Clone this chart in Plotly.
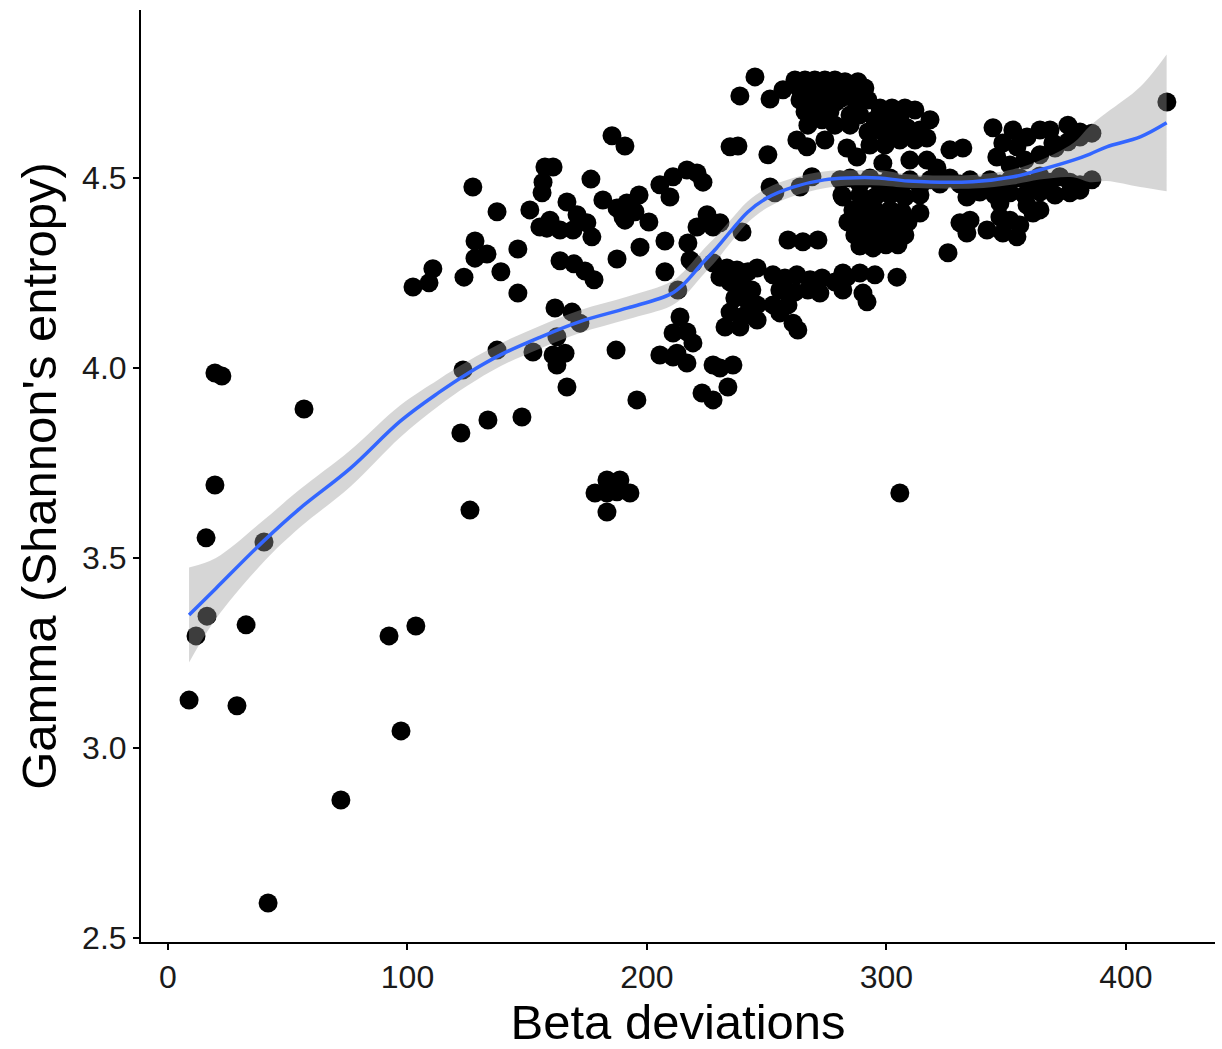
import plotly.graph_objects as go
import numpy as np

# ---- observed points: Beta deviations (x) vs Gamma Shannon entropy (y) ----
beta = [
    # sparse left part
    8.8, 11.7, 16.3, 15.9, 19.6, 19.6, 22.5, 28.8, 32.6, 40.1, 41.8, 56.8, 72.2, 92.3, 97.3, 103.5,
    # 100-155
    102.3, 109.0, 110.6, 123.2, 122.3, 126.1, 127.3, 123.6, 128.2, 128.2, 133.2, 137.4, 139.0, 137.4,
    133.6, 146.1, 146.1, 147.8, 152.4, 151.1, 155.3,
    # 155-200
    157.4, 160.8, 156.6, 156.2, 159.5, 158.2, 163.7, 169.1, 166.6, 170.8, 174.9, 177.0, 176.6, 181.6,
    187.5, 191.6, 196.7, 190.8, 195.0, 200.8, 185.4, 190.8, 190.0, 163.7, 169.5, 174.1, 177.9, 187.5,
    197.1, 161.6, 168.7, 172.0, 162.4, 160.8, 165.8, 162.4, 166.6, 187.1, 195.8,
    # 200-240
    205.4, 210.9, 216.7, 220.9, 223.4, 209.6, 207.5, 217.1, 220.9, 207.5, 219.2, 212.9, 213.8, 210.9,
    216.7, 205.4, 210.9, 216.7, 219.2, 212.5, 227.6, 230.5, 235.9, 233.8, 223.0, 227.6, 225.1, 227.6,
    230.5, 239.7, 227.6, 230.5, 218.0, 232.6,
    # upper cluster 235-290
    245.1, 238.8, 251.4, 256.8, 261.8, 266.0, 270.1, 274.3, 278.5, 282.7, 288.1, 263.9, 268.9, 273.9,
    278.9, 283.9, 263.9, 268.9, 273.9, 278.9, 266.0, 271.4, 276.4, 267.2, 273.1, 278.5, 284.8, 288.9,
    289.8, 234.7, 238.0, 250.5, 262.6, 266.8, 274.3, 283.5, 287.7, 251.4, 253.4, 263.9, 268.9, 281.4,
    258.9, 265.1, 271.4,
    # mid cluster 230-290
    233.4, 237.6, 242.2, 246.0, 234.7, 239.7, 243.8, 236.7, 241.8, 246.0, 234.7, 240.9, 246.0, 238.8,
    252.6, 257.6, 262.6, 268.1, 273.1, 278.5, 283.5, 255.5, 261.8, 267.2, 272.2, 255.5, 261.0, 263.0,
    252.6, 258.9, 290.2, 291.9,
    # upper 280-332
    280.6, 285.6, 291.0, 281.4, 286.8, 292.3, 297.3, 302.3, 307.7, 311.9, 284.8, 295.2, 300.6, 305.6,
    292.3, 297.3, 302.7, 308.6, 314.0, 318.2, 293.1, 299.4, 305.6, 311.9, 316.9, 298.5, 309.8, 316.9,
    321.1, 326.5, 331.9,
    # band near 4.49
    280.6, 284.8, 288.9, 293.1, 297.3, 301.5, 305.6, 309.8, 314.0, 318.2, 322.3, 326.5, 330.7, 334.9,
    339.0, 343.2, 347.4, 351.6, 355.7, 359.9, 364.1, 368.3, 372.4, 376.6, 380.8, 385.8,
    351.6, 357.8, 364.1, 370.4, 375.8, 380.8, 385.8,
    # upper right 344-381
    344.5, 352.8, 358.7, 364.1, 368.3, 375.8, 380.8, 348.6, 354.5, 369.5, 346.1,
    # below band
    281.8, 288.9, 295.2, 301.5, 307.7, 314.0, 333.6, 339.0, 345.3, 351.6, 357.8, 364.1, 370.4, 376.6,
    380.8, 286.0, 291.0, 296.0, 301.5, 306.5, 283.9, 288.9, 293.9, 299.0, 304.0, 309.0, 286.8, 291.9,
    297.3, 302.3, 307.7, 288.9, 294.4, 299.8, 304.8, 314.0, 330.7, 334.9, 333.6, 342.0, 347.4, 348.6,
    354.5, 351.6, 361.2, 364.1, 355.7, 347.4, 358.7, 325.7, 281.8, 288.9, 295.2, 304.4, 281.8,
    # isolated
    417.1, 183.3, 188.7, 178.3, 183.3, 187.5, 192.9, 183.3, 305.6,
]

gamma = [
    3.126, 3.295, 3.347, 3.553, 3.692, 3.987, 3.979, 3.111, 3.324, 3.542, 2.592, 3.892, 2.863, 3.295, 3.045, 3.321,
    4.213, 4.224, 4.261, 3.995, 3.829, 3.626, 4.476, 4.239, 4.334, 4.289, 4.300, 4.411, 4.253, 4.047,
    3.863, 4.197, 4.313, 3.871, 4.042, 4.416, 4.371,
    4.529, 4.529, 4.489, 4.461, 4.389, 4.368, 4.363, 4.363, 4.437, 4.403, 4.382, 4.345, 4.497, 4.442,
    4.421, 4.434, 4.455, 4.389, 4.411, 4.384, 4.611, 4.584, 4.397, 4.282, 4.274, 4.255, 4.232, 4.287,
    4.318, 4.158, 4.147, 4.118, 4.082, 4.034, 4.039, 4.008, 3.950, 4.047, 3.916,
    4.482, 4.503, 4.521, 4.513, 4.489, 4.450, 4.334, 4.329, 4.371, 4.253, 4.276, 4.205, 4.134, 4.092,
    4.095, 4.034, 4.029, 4.013, 4.066, 4.039, 4.008, 4.000, 4.008, 3.950, 3.934, 3.916, 4.403, 4.371,
    4.382, 4.358, 4.276, 4.239, 4.284, 4.108,
    4.766, 4.716, 4.708, 4.732, 4.758, 4.758, 4.758, 4.758, 4.758, 4.753, 4.753, 4.732, 4.732, 4.732,
    4.732, 4.726, 4.705, 4.705, 4.705, 4.700, 4.674, 4.674, 4.674, 4.639, 4.653, 4.639, 4.639, 4.666,
    4.705, 4.582, 4.584, 4.561, 4.600, 4.582, 4.600, 4.579, 4.555, 4.476, 4.461, 4.476, 4.503, 4.455,
    4.337, 4.332, 4.337,
    4.263, 4.258, 4.253, 4.263, 4.226, 4.218, 4.205, 4.184, 4.179, 4.166, 4.147, 4.139, 4.126, 4.108,
    4.245, 4.237, 4.245, 4.232, 4.237, 4.226, 4.239, 4.205, 4.200, 4.205, 4.197, 4.145, 4.118, 4.100,
    4.166, 4.166, 4.197, 4.174,
    4.745, 4.745, 4.737, 4.711, 4.705, 4.705, 4.684, 4.684, 4.684, 4.679, 4.666, 4.653, 4.653, 4.658,
    4.621, 4.626, 4.621, 4.632, 4.626, 4.653, 4.587, 4.587, 4.600, 4.600, 4.605, 4.539, 4.547, 4.547,
    4.526, 4.574, 4.579,
    4.495, 4.500, 4.484, 4.500, 4.484, 4.500, 4.484, 4.495, 4.479, 4.495, 4.484, 4.500, 4.484, 4.495,
    4.479, 4.495, 4.484, 4.495, 4.500, 4.484, 4.505, 4.489, 4.503, 4.489, 4.482, 4.495,
    4.534, 4.547, 4.561, 4.579, 4.595, 4.608, 4.618,
    4.632, 4.626, 4.608, 4.626, 4.626, 4.639, 4.621, 4.592, 4.582, 4.592, 4.555,
    4.450, 4.455, 4.450, 4.455, 4.450, 4.455, 4.450, 4.463, 4.455, 4.461, 4.455, 4.463, 4.455, 4.461,
    4.468, 4.416, 4.416, 4.411, 4.416, 4.411, 4.384, 4.384, 4.376, 4.384, 4.376, 4.384, 4.350, 4.350,
    4.342, 4.350, 4.350, 4.321, 4.316, 4.324, 4.324, 4.408, 4.382, 4.389, 4.355, 4.363, 4.397, 4.355,
    4.345, 4.389, 4.408, 4.416, 4.376, 4.434, 4.429, 4.303, 4.250, 4.250, 4.245, 4.239, 4.205,
    4.700, 3.705, 3.705, 3.671, 3.671, 3.674, 3.671, 3.621, 3.671,
]

# ---- smoother (fitted curve and ribbon half-width) ----
fit_x = [8.8, 20, 40, 55, 76, 97, 113, 125, 139, 155, 172, 192, 210, 216, 223, 229, 235, 242, 250,
         261, 274, 284, 297, 309, 336, 353, 364, 378, 385, 392, 406, 417]
fit_y = [3.35, 3.42, 3.545, 3.63, 3.735, 3.86, 3.935, 3.985, 4.035, 4.08, 4.122, 4.158, 4.195, 4.225,
         4.275, 4.315, 4.36, 4.41, 4.447, 4.476, 4.495, 4.50, 4.50, 4.492, 4.49, 4.503, 4.521, 4.547,
         4.563, 4.582, 4.608, 4.645]
fit_se = [0.125, 0.08, 0.055, 0.05, 0.048, 0.042, 0.035, 0.032, 0.03, 0.03, 0.03, 0.03, 0.032, 0.033,
          0.033, 0.032, 0.03, 0.028, 0.026, 0.024, 0.022, 0.02, 0.02, 0.018, 0.018, 0.02, 0.025, 0.045,
          0.074, 0.09, 0.132, 0.18]

x_ticks = [0, 100, 200, 300, 400]
y_ticks = [2.5, 3.0, 3.5, 4.0, 4.5]
y_tick_text = ["2.5", "3.0", "3.5", "4.0", "4.5"]

upper = (np.array(fit_y) + np.array(fit_se)).tolist()
lower = (np.array(fit_y) - np.array(fit_se)).tolist()

FONT = "Liberation Sans, Arial, sans-serif"

fig = go.Figure()
fig.add_trace(go.Scatter(
    x=beta, y=gamma, mode="markers",
    marker=dict(size=19, color="black", line=dict(width=0)),
    showlegend=False, hoverinfo="x+y"))
fig.add_trace(go.Scatter(
    x=fit_x, y=lower, mode="lines", line=dict(width=0, shape="spline", smoothing=1),
    showlegend=False, hoverinfo="skip"))
fig.add_trace(go.Scatter(
    x=fit_x, y=upper, mode="lines", line=dict(width=0, shape="spline", smoothing=1),
    fill="tonexty", fillcolor="rgba(153,153,153,0.4)",
    showlegend=False, hoverinfo="skip"))
fig.add_trace(go.Scatter(
    x=fit_x, y=fit_y, mode="lines",
    line=dict(color="#3366FF", width=3.5, shape="spline", smoothing=1),
    showlegend=False))

fig.update_layout(
    width=1222, height=1049,
    margin=dict(l=141, r=7, t=10, b=107, autoexpand=False),
    paper_bgcolor="white", plot_bgcolor="white",
    font=dict(family=FONT, color="black"),
    xaxis=dict(
        range=[-11.27, 437.2], tickmode="array", tickvals=x_ticks, automargin=False,
        showgrid=False, zeroline=False, showline=True, linecolor="black", linewidth=2,
        ticks="outside", ticklen=6, tickwidth=1.5, tickcolor="black",
        tickfont=dict(size=32, color="#1a1a1a", family=FONT),
        title=dict(text="Beta deviations", font=dict(size=49, family=FONT, color="black"), standoff=8),
    ),
    yaxis=dict(
        range=[2.4895, 4.942], tickmode="array", tickvals=y_ticks, ticktext=y_tick_text, automargin=False,
        showgrid=False, zeroline=False, showline=True, linecolor="black", linewidth=2,
        ticks="outside", ticklen=6, tickwidth=1.5, tickcolor="black",
        tickfont=dict(size=32, color="#1a1a1a", family=FONT),
        title=dict(text="Gamma (Shannon's entropy)", font=dict(size=49, family=FONT, color="black"), standoff=10),
    ),
)

fig.write_html("out.html", config={"displayModeBar": False},
               post_script="document.body.style.margin='0';")
